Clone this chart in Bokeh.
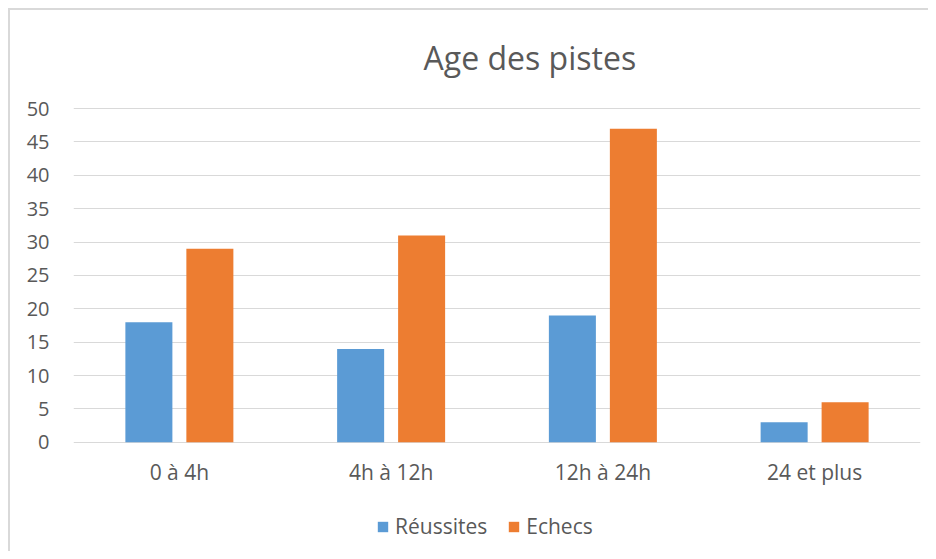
from bokeh.plotting import figure
from bokeh.models import FactorRange, Range1d, ColumnDataSource, Legend, LegendItem, FixedTicker
from bokeh.core.properties import value
from bokeh.transform import dodge
from bokeh.embed import file_html
from bokeh.resources import INLINE

categories = ["0 à 4h", "4h à 12h", "12h à 24h", "24 et plus"]
reussites = [18, 14, 19, 3]
echecs = [29, 31, 47, 6]
y_ticks = [0, 5, 10, 15, 20, 25, 30, 35, 40, 45, 50]
title_text = "Age des pistes"
series_names = ["Réussites", "Echecs"]

FONT = "Open Sans"
TXT = "#595959"
GRID = "#D9D9D9"
BLUE = "#5B9BD5"
ORANGE = "#ED7D31"

src = ColumnDataSource(dict(cat=categories, r=reussites, e=echecs,
                            ly=[-4.5] * len(categories)))

p = figure(width=920, height=543, x_range=FactorRange(*categories), y_range=Range1d(-15, 63.5),
           output_backend="svg", toolbar_location=None,
           min_border_left=63, min_border_right=10, min_border_top=8, min_border_bottom=11)
p.outline_line_color = None
p.styles = {"border-left": "2px solid #D9D9D9", "border-top": "2px solid #D9D9D9",
            "margin-left": "8px", "margin-top": "8px"}

b1 = p.vbar(x=dodge("cat", -0.144, range=p.x_range), top="r", width=0.222, source=src,
            fill_color=BLUE, line_color=None)
b2 = p.vbar(x=dodge("cat", 0.144, range=p.x_range), top="e", width=0.222, source=src,
            fill_color=ORANGE, line_color=None)

# category labels under the bars
p.text(x="cat", y="ly", text="cat", source=src, text_align="center", text_baseline="middle",
       text_font=value(FONT), text_font_size="21px", text_color=TXT)

# chart title
p.text(x=[categories[2]], y=[57.7], text=[title_text], x_offset=-73,
       text_align="center", text_baseline="alphabetic",
       text_font=value(FONT), text_font_size="32px", text_color=TXT)

p.xaxis.visible = False
p.xgrid.grid_line_color = None
p.ygrid.grid_line_color = GRID
p.ygrid.grid_line_width = 1
p.ygrid.ticker = FixedTicker(ticks=y_ticks)
p.yaxis.ticker = FixedTicker(ticks=y_ticks)
p.yaxis.axis_line_color = None
p.yaxis.major_tick_line_color = None
p.yaxis.minor_tick_line_color = None
p.yaxis.major_label_standoff = 18
p.yaxis.major_label_text_font = FONT
p.yaxis.major_label_text_font_size = "20px"
p.yaxis.major_label_text_color = TXT

legend = Legend(items=[LegendItem(label=series_names[0], renderers=[b1]),
                       LegendItem(label=series_names[1], renderers=[b2])],
                orientation="horizontal", location=(303, 2),
                glyph_width=13, glyph_height=13, label_standoff=6, spacing=20,
                padding=0, margin=0, border_line_color=None, background_fill_alpha=0,
                label_text_font=FONT, label_text_font_size="21px", label_text_color=TXT)
p.add_layout(legend, "center")

open("out.html", "w").write(file_html(p, INLINE))
